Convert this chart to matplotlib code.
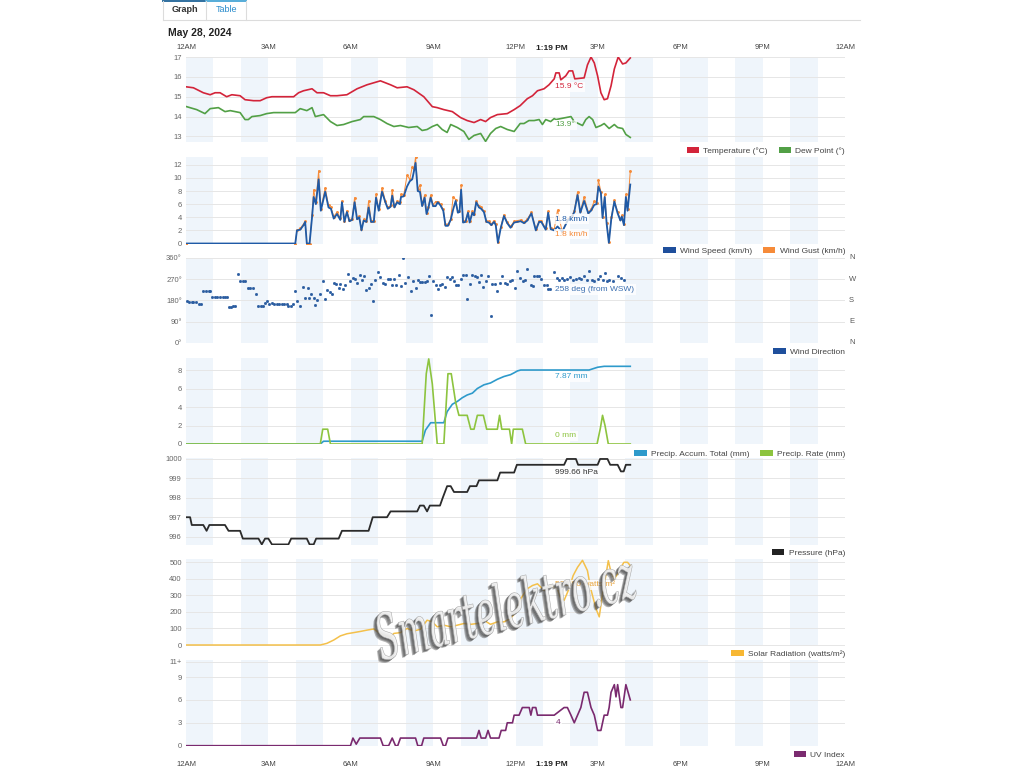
import matplotlib
matplotlib.use("Agg")
import matplotlib.pyplot as plt
from matplotlib.patches import Patch, PathPatch
from matplotlib.lines import Line2D
from matplotlib.textpath import TextPath
from matplotlib.font_manager import FontProperties
from matplotlib.transforms import Affine2D

plt.rcParams['font.family'] = ['Liberation Sans', 'DejaVu Sans']

# ---- data (hours since midnight) ----
now_hour = 13.32
hour_ticks = [0, 3, 6, 9, 12, 15, 18, 21, 24]
hour_labels = ['12AM', '3AM', '6AM', '9AM', '12PM', '3PM', '6PM', '9PM', '12AM']

temp_h = [0.0, 0.27, 0.63, 0.88, 1.06, 1.24, 1.48, 1.67, 1.97, 2.15, 2.46, 2.70, 2.94, 3.13, 3.92,
          4.10, 4.28, 4.59, 4.77, 5.01, 5.26, 5.50, 5.86, 6.23, 6.59, 7.08, 7.45, 7.69, 8.05, 8.30,
          8.66, 8.97, 9.15, 9.39, 9.70, 10.0, 10.24, 10.49, 10.73, 10.91, 11.09, 11.34, 11.70, 11.95,
          12.17, 12.43, 12.62, 12.80, 13.04, 13.22, 13.41, 13.47, 13.59, 13.65, 13.83, 13.95, 14.08,
          14.16, 14.50, 14.62, 14.75, 14.87, 14.99, 15.11, 15.23, 15.35, 15.48, 15.60, 15.74, 15.90,
          16.02, 16.18]
temp_v = [15.5, 15.45, 15.2, 15.1, 15.2, 15.2, 15.0, 15.1, 15.05, 14.85, 14.8, 14.8, 14.95, 15.0, 15.0,
          15.2, 15.3, 15.4, 15.2, 15.2, 15.05, 15.05, 15.1, 15.4, 15.6, 15.8, 15.6, 15.45, 15.5, 15.35,
          15.0, 14.5, 14.45, 14.35, 14.25, 13.95, 13.8, 13.7, 13.85, 13.75, 13.95, 14.1, 14.15, 14.35,
          14.55, 14.9, 15.05, 15.3, 15.4, 15.6, 15.9, 16.2, 16.2, 15.85, 16.05, 16.3, 16.3,
          15.9, 15.95, 16.6, 17.0, 16.7, 16.05, 15.2, 14.85, 14.9, 15.55, 16.4, 17.0, 16.65,
          16.7, 16.95]

dew_h = [0.02, 0.39, 0.69, 0.88, 1.18, 1.42, 1.61, 1.97, 2.15, 2.27, 2.40, 2.70, 2.94, 3.19, 3.98,
         4.16, 4.40, 4.59, 4.71, 5.01, 5.26, 5.50, 5.74, 6.05, 6.35, 6.47, 6.84, 7.08, 7.32, 7.57,
         7.81, 8.11, 8.42, 8.60, 8.78, 8.97, 9.15, 9.33, 9.51, 9.64, 9.88, 10.12, 10.30, 10.49, 10.73,
         10.91, 11.09, 11.28, 11.46, 11.70, 11.95, 12.17, 12.31, 12.49, 12.68, 12.86, 12.98, 13.10,
         13.28, 13.41, 13.47, 14.02, 14.14, 14.44, 14.56, 14.68, 14.81, 14.93, 15.11, 15.23, 15.41,
         15.60, 15.72, 15.90, 16.02, 16.18]
dew_v = [14.5, 14.35, 14.15, 14.4, 14.45, 14.25, 14.3, 14.2, 13.85, 13.85, 14.0, 14.05, 14.15, 14.2, 14.2,
         14.4, 14.3, 14.45, 14.0, 14.1, 13.75, 13.55, 13.6, 13.75, 13.85, 14.0, 14.0, 13.85, 13.65, 13.5,
         13.55, 13.45, 13.5, 13.3, 13.35, 13.5, 13.6, 13.35, 13.2, 13.6, 13.45, 13.25, 12.85, 13.05, 13.15,
         12.75, 13.15, 13.4, 13.5, 13.35, 13.25, 13.65, 13.65, 13.8, 13.8, 13.85, 13.6, 13.85,
         13.75, 13.9, 13.85, 14.0, 13.75, 13.55, 13.85, 14.0, 13.85, 13.45, 13.55, 13.65, 13.4,
         13.6, 13.45, 13.4, 13.1, 12.95]

wind_h = [0.0, 3.98, 4.04, 4.16, 4.28, 4.34, 4.40, 4.50, 4.59, 4.65,
          4.73, 4.83, 4.91, 5.07, 5.19, 5.28, 5.38, 5.50, 5.62, 5.68,
          5.77, 5.86, 5.95, 6.05, 6.14, 6.23, 6.31, 6.39, 6.47, 6.57,
          6.65, 6.74, 6.84, 6.92, 7.02, 7.14, 7.26, 7.35, 7.45, 7.51,
          7.59, 7.69, 7.79, 7.83, 7.93, 8.05, 8.15, 8.24, 8.30, 8.36,
          8.44, 8.52, 8.60, 8.69, 8.76, 8.82, 8.91, 9.00, 9.09, 9.17,
          9.27, 9.37, 9.45, 9.54, 9.64, 9.73, 9.82, 9.90, 9.96, 10.02,
          10.09, 10.18, 10.27, 10.33, 10.43, 10.49, 10.57, 10.67, 10.75, 10.85,
          10.94, 11.03, 11.12, 11.22, 11.28, 11.36, 11.46, 11.58, 11.70, 11.82,
          11.95, 12.07, 12.19, 12.31, 12.43, 12.58, 12.74, 12.86, 12.94, 13.10,
          13.19, 13.28, 13.41, 13.53, 13.70, 13.90, 14.05, 14.14, 14.26, 14.36,
          14.50, 14.65, 14.75, 14.87, 14.95, 15.02, 15.11, 15.17, 15.25, 15.32,
          15.40, 15.49, 15.60, 15.72, 15.82, 15.87, 15.95, 16.02, 16.08, 16.18]
wind_speed = [0, 0, 2.0, 2.1, 2.8, 3.3, 0, 0, 4.0, 7.1,
              6.0, 9.8, 5.0, 7.9, 5.5, 5.3, 3.8, 4.5, 3.6, 6.3,
              3.3, 4.8, 3.4, 3.6, 6.3, 3.7, 4.0, 2.0, 3.5, 3.3,
              5.5, 3.3, 3.3, 7.0, 5.0, 7.9, 6.3, 5.3, 5.6, 7.3,
              5.5, 6.3, 6.0, 7.1, 7.2, 8.7, 9.5, 9.8, 11.0, 12.3,
              8.0, 7.9, 5.7, 7.0, 4.5, 5.3, 7.0, 5.7, 5.7, 6.3,
              5.8, 5.0, 2.7, 2.7, 3.6, 5.2, 6.5, 4.7, 4.8, 8.2,
              3.2, 3.3, 4.7, 3.2, 4.7, 4.3, 6.3, 5.5, 5.3, 4.8,
              3.3, 3.2, 2.8, 3.3, 2.8, 0.1, 2.3, 4.2, 3.1, 2.4,
              3.2, 3.3, 3.4, 3.1, 3.5, 4.6, 2.0, 3.3, 3.3, 2.1,
              4.7, 2.2, 2.0, 2.6, 1.8, 3.5, 4.0, 4.8, 7.4, 4.7,
              6.5, 4.6, 5.0, 5.9, 6.0, 8.7, 7.7, 3.9, 7.1, 3.0,
              0.1, 3.8, 6.4, 4.6, 3.5, 4.1, 2.8, 7.1, 5.0, 9.0]
wind_gust = [0, 0, 2.0, 2.3, 3.0, 3.4, 0, 0, 4.3, 8.2,
             6.3, 11.1, 5.3, 8.5, 5.8, 5.5, 4.1, 4.8, 3.9, 6.5,
             3.5, 5.0, 3.6, 3.8, 7.0, 3.9, 4.2, 2.2, 3.7, 3.5,
             6.5, 3.5, 3.5, 7.5, 5.2, 8.5, 6.5, 5.5, 5.8, 8.2,
             5.7, 6.5, 6.3, 7.5, 7.4, 10.4, 9.8, 11.7, 11.3, 13.2,
             8.3, 8.9, 6.0, 7.4, 4.7, 5.5, 7.4, 5.9, 6.4, 6.4,
             6.0, 5.2, 2.9, 2.9, 3.8, 7.1, 6.7, 4.9, 5.0, 8.9,
             3.4, 3.5, 4.9, 3.4, 4.9, 4.5, 6.5, 5.7, 5.5, 5.0,
             3.5, 3.4, 3.0, 3.5, 3.0, 0.3, 2.5, 4.4, 3.3, 2.6,
             3.4, 3.5, 3.6, 3.3, 3.7, 4.8, 2.2, 3.5, 3.5, 2.3,
             4.9, 2.4, 2.2, 5.1, 1.8, 3.7, 4.2, 5.0, 7.9, 4.9,
             7.1, 4.8, 5.2, 6.5, 6.2, 9.7, 7.9, 4.1, 7.5, 3.2,
             0.3, 4.0, 6.6, 4.8, 3.7, 4.3, 3.0, 7.5, 5.2, 11.1]

dir_h = [0.02, 0.12, 0.21, 0.27, 0.36, 0.49, 0.55, 0.63, 0.73, 0.82, 0.88, 0.96, 1.06, 1.14, 1.24,
         1.33, 1.42, 1.48, 1.55, 1.63, 1.70, 1.80, 1.89, 1.97, 2.06, 2.15, 2.24, 2.34, 2.43, 2.55,
         2.64, 2.73, 2.82, 2.88, 2.94, 3.04, 3.13, 3.21, 3.31, 3.39, 3.49, 3.58, 3.67, 3.73, 3.82,
         3.89, 3.98, 4.06, 4.16, 4.26, 4.35, 4.44, 4.49, 4.56, 4.65, 4.71, 4.77, 4.87, 4.98, 5.07,
         5.13, 5.23, 5.32, 5.38, 5.47, 5.56, 5.62, 5.72, 5.80, 5.89, 5.99, 6.08, 6.14, 6.23, 6.33,
         6.41, 6.50, 6.57, 6.65, 6.74, 6.80, 6.90, 6.98, 7.08, 7.18, 7.26, 7.35, 7.42, 7.51, 7.57,
         7.66, 7.75, 7.83, 7.91, 7.99, 8.08, 8.18, 8.26, 8.36, 8.44, 8.52, 8.60, 8.69, 8.76, 8.84,
         8.91, 9.00, 9.09, 9.17, 9.25, 9.33, 9.42, 9.51, 9.60, 9.67, 9.76, 9.85, 9.91, 10.0, 10.09,
         10.18, 10.24, 10.34, 10.43, 10.51, 10.58, 10.67, 10.75, 10.83, 10.91, 11.01, 11.09, 11.16,
         11.25, 11.34, 11.44, 11.52, 11.61, 11.70, 11.80, 11.89, 11.97, 12.07, 12.17, 12.27, 12.34,
         12.43, 12.55, 12.62, 12.68, 12.77, 12.86, 12.94, 13.04, 13.13, 13.19, 13.26, 13.41, 13.51,
         13.59, 13.71, 13.77, 13.89, 13.99, 14.08, 14.20, 14.32, 14.40, 14.50, 14.60, 14.68, 14.77,
         14.87, 14.99, 15.09, 15.17, 15.26, 15.35, 15.41, 15.54, 15.74, 15.84, 15.94]
dir_deg = [176, 172, 172, 172, 172, 165, 165, 219, 219, 219, 219, 195, 195, 195, 195,
           195, 195, 195, 152, 152, 158, 158, 292, 261, 261, 261, 232, 232, 232, 208,
           158, 158, 158, 169, 176, 167, 169, 165, 165, 165, 165, 165, 165, 158, 158,
           165, 219, 176, 155, 237, 189, 234, 189, 208, 191, 162, 184, 209, 264, 186,
           226, 215, 209, 254, 251, 233, 248, 229, 244, 294, 264, 275, 271, 254, 289,
           268, 282, 223, 232, 250, 176, 268, 299, 280, 254, 250, 271, 271, 244, 271,
           247, 289, 243, 360, 254, 278, 219, 261, 233, 268, 258, 257, 257, 264, 285,
           117, 264, 244, 229, 247, 250, 236, 280, 271, 280, 264, 247, 247, 271, 289,
           289, 186, 250, 287, 285, 280, 258, 289, 236, 264, 285, 113, 251,
           250, 219, 254, 285, 254, 250, 261, 268, 233, 304, 275, 264, 268,
           313, 247, 240, 282, 282, 282, 272, 247, 247, 229, 229, 299, 275,
           268, 275, 268, 272, 278, 268, 271, 275, 272, 282, 268, 304, 265,
           261, 272, 285, 268, 296, 261, 268, 264, 285, 275, 265]

accum_h = [0, 4.89, 5.01, 8.60, 8.72, 8.91, 9.39, 9.51, 9.70, 9.88, 10.06, 10.24, 10.43, 10.61,
           10.85, 11.09, 11.34, 11.58, 11.82, 11.95, 12.07, 12.19, 14.68, 14.99, 15.23, 16.18]
accum_v = [0, 0, 0.3, 0.3, 1.5, 2.3, 2.3, 3.5, 4.3, 4.6, 5.0, 5.3, 5.5, 6.0,
           6.4, 6.6, 7.0, 7.3, 7.5, 7.7, 7.9, 8.0, 8.0, 8.3, 8.4, 8.4]

rate_h = [0, 4.89, 4.98, 5.16, 5.26, 8.60, 8.75, 8.84, 8.97, 9.15, 9.39, 9.54, 9.66, 9.82, 9.94,
          10.24, 10.37, 10.49, 10.61, 10.83, 10.95, 11.34, 11.42, 11.50, 11.78, 11.86, 11.92, 12.25,
          12.37, 14.97, 15.09, 15.17, 15.26, 15.38, 16.18]
rate_v = [0, 0, 1.6, 1.6, 0, 0, 7.6, 9.2, 6.5, 0, 0, 7.6, 7.6, 4.5, 3.1,
          3.1, 1.6, 1.6, 3.1, 3.1, 1.6, 1.6, 3.1, 1.6, 1.6, 0, 1.6, 1.6,
          0, 0, 1.7, 3.1, 2.0, 0, 0]

press_h = [0.0, 0.15, 0.21, 0.63, 0.75, 0.85, 1.42, 1.55, 1.97, 2.07, 2.64, 2.76, 2.88, 3.0, 3.13,
           3.73, 3.83, 4.40, 4.50, 4.65, 4.74, 5.56, 5.68, 6.65, 6.80, 7.32, 7.45, 8.42, 8.52, 8.66,
           8.78, 8.88, 9.25, 9.35, 9.51, 9.64, 9.76, 10.24, 10.34, 10.58, 10.67, 11.34, 11.44, 11.95,
           12.05, 13.77, 13.87, 14.20, 14.28, 14.99, 15.08, 15.35, 15.45, 15.72, 15.84, 15.94, 16.02,
           16.18]
press_v = [997.0, 997.0, 996.6, 996.6, 996.3, 996.6, 996.6, 996.3, 996.3, 995.9, 995.9, 995.6, 995.9,
           995.9, 995.6, 995.6, 995.9, 995.9, 995.6, 995.6, 995.9, 995.9, 996.3, 996.3, 997.0, 997.0,
           997.3, 997.3, 997.6, 997.6, 997.3, 997.6, 997.6, 998.0, 998.6, 998.6, 998.3, 998.3, 998.6,
           998.6, 998.9, 998.9, 999.3, 999.3, 999.7, 999.7, 1000.0, 1000.0, 999.7, 999.7, 1000.0,
           1000.0, 999.7, 999.7, 999.36, 999.36, 999.7, 999.7]

solar_h = [0, 4.89, 5.13, 5.38, 5.62, 5.86, 6.11, 6.35, 6.59, 6.84, 7.02, 7.20, 7.45, 7.57, 7.81,
           8.05, 8.30, 8.54, 8.78, 8.97, 9.15, 9.39, 9.64, 9.88, 10.12, 10.37, 10.61, 10.85, 11.09,
           11.34, 11.58, 11.82, 12.01, 12.19, 12.43, 12.62, 12.80, 13.04, 13.28, 13.53, 13.65, 13.77,
           13.95, 14.10, 14.26, 14.44, 14.62, 14.74, 14.93, 15.05, 15.17, 15.29, 15.38, 15.48, 15.60,
           15.72, 15.84, 15.95, 16.08, 16.18]
solar_v = [0, 0, 10, 30, 55, 68, 75, 82, 90, 97, 75, 60, 50, 70, 75,
           100, 85, 95, 150, 140, 110, 120, 110, 120, 130, 125, 130, 150, 125,
           140, 140, 160, 200, 280, 340, 360, 370, 330, 360, 340, 280, 270,
           340, 420, 470, 512, 450, 340, 220, 170, 310, 420, 510, 440, 400,
           430, 470, 500, 500, 480]

uv_h = [0, 5.99, 6.08, 6.20, 6.33, 7.08, 7.18, 7.38, 7.51, 7.63, 7.71, 7.81, 8.36, 8.44, 8.58,
        8.66, 9.27, 9.37, 9.45, 9.54, 10.58, 10.67, 10.75, 10.91, 11.0, 11.09, 11.40, 11.48, 11.64,
        11.70, 11.89, 11.95, 12.13, 12.25, 12.50, 12.56, 12.62, 12.74, 12.80, 13.41, 13.77, 13.89,
        14.02, 14.14, 14.26, 14.38, 14.50, 14.62, 14.75, 14.87, 14.99, 15.11, 15.23, 15.35, 15.41,
        15.48, 15.60, 15.66, 15.72, 15.84, 15.90, 16.02, 16.18]
uv_v = [0, 0, 1, 0.2, 1, 1, 0, 0, 1, 0, 0, 1, 1, 0, 0,
        1, 1, 0, 0, 1, 1, 2, 1, 1, 2, 1, 1, 2, 2,
        3, 3, 4, 4, 5, 5, 4, 5, 5, 4, 4, 5, 5,
        4, 3, 4, 5, 7, 7, 5, 4, 2, 2, 4, 4, 5,
        7, 8, 6.4, 8, 5, 5, 8, 6]

# ---- styling ----
BAND = '#eff5fb'
GRID = '#e6e6e6'
W, H = 1024, 768
LEFT, RIGHT = 186, 845

fig = plt.figure(figsize=(W / 100, H / 100), dpi=100)
fig.patch.set_facecolor('white')


def panel(top, bottom, ylim, yticks, ylabels=None):
    ax = fig.add_axes([LEFT / W, 1 - bottom / H, (RIGHT - LEFT) / W, (bottom - top) / H])
    ax.set_xlim(0, 24)
    ax.set_ylim(*ylim)
    for h in range(0, 24, 2):
        ax.axvspan(h, h + 1, color=BAND, lw=0, zorder=0)
    for t in yticks:
        ax.axhline(t, color=GRID, lw=0.7, zorder=0.5)
    ax.set_yticks(yticks)
    ax.set_yticklabels(ylabels if ylabels else [str(t) for t in yticks], fontsize=5.5, color='#666')
    ax.tick_params(axis='y', length=0, pad=3)
    ax.set_xticks([])
    for s in ax.spines.values():
        s.set_visible(False)
    return ax


def legend(ax, items, dy_px=9):
    handles = [Patch(facecolor=c, edgecolor='none', label=l) for l, c in items]
    h_px = ax.get_position().height * H
    ax.legend(handles=handles, loc='center right', bbox_to_anchor=(1.0, -dy_px / h_px),
              ncol=len(items), frameon=False, fontsize=6, handlelength=1.5, handleheight=0.75,
              handletextpad=0.5, columnspacing=1.3, borderaxespad=0, borderpad=0, labelcolor='#444')


def value_label(ax, y, text, color):
    ax.text(now_hour + 0.13, y, text, color=color, fontsize=6, ha='left', va='center', zorder=5,
            bbox=dict(boxstyle='square,pad=0.2', fc='white', ec='none', alpha=0.8))


# 1. temperature / dew point
ax1 = panel(57, 142, (12.72, 17.0), [13, 14, 15, 16, 17])
ax1.plot(temp_h, temp_v, color='#d3243a', lw=1.2, zorder=3)
ax1.plot(dew_h, dew_v, color='#52a046', lw=1.2, zorder=3)
value_label(ax1, 15.5, '15.9 °C', '#d3243a')
value_label(ax1, 13.58, '13.9°', '#52a046')
legend(ax1, [('Temperature (°C)', '#d3243a'), ('Dew Point (°)', '#52a046')])
ax1.xaxis.tick_top()
ax1.set_xticks(hour_ticks)
ax1.set_xticklabels(hour_labels, fontsize=5.5, color='#444')
ax1.tick_params(axis='x', length=0, pad=4)
ax1.text(now_hour, 1 + 9 / 85, '1:19 PM', transform=ax1.get_xaxis_transform(), ha='center',
         va='center', fontsize=6, fontweight='bold', color='#222')

# 2. wind speed / gust
ax2 = panel(157, 243.5, (0, 13.2), [0, 2, 4, 6, 8, 10, 12])
ax2.plot(wind_h, wind_gust, color='#f68b39', lw=0.7, marker='o', markersize=1.1, zorder=3)
ax2.plot(wind_h, wind_speed, color='#1f5aa6', lw=1.3, zorder=4)
value_label(ax2, 3.7, '1.8 km/h', '#1f5aa6')
value_label(ax2, 1.4, '1.8 km/h', '#f68b39')
legend(ax2, [('Wind Speed (km/h)', '#1f4f9c'), ('Wind Gust (km/h)', '#f68b39')], dy_px=7.5)

# 3. wind direction
ax3 = panel(258, 343, (0, 360), [0, 90, 180, 270, 360], ['0°', '90°', '180°', '270°', '360°'])
ax3.plot(dir_h, dir_deg, ls='none', marker='s', markersize=1.0, color='#2a5ca0', zorder=3)
value_label(ax3, 226, '258 deg (from WSW)', '#3b6fb0')
for d, lab in zip([360, 270, 180, 90, 0], ['N', 'W', 'S', 'E', 'N']):
    ax3.text(1.006, d, lab, transform=ax3.get_yaxis_transform(), fontsize=5.5, color='#555',
             ha='left', va='center')
legend(ax3, [('Wind Direction', '#1f4f9c')])

# 4. precipitation
ax4 = panel(358, 444, (0, 9.3), [0, 2, 4, 6, 8])
ax4.plot(accum_h, accum_v, color='#2e9acb', lw=1.2, zorder=3)
ax4.plot(rate_h, rate_v, color='#8dc43f', lw=1.2, zorder=3)
value_label(ax4, 7.27, '7.87 mm', '#2e9acb')
value_label(ax4, 0.87, '0 mm', '#8dc43f')
legend(ax4, [('Precip. Accum. Total (mm)', '#2e9acb'), ('Precip. Rate (mm)', '#8dc43f')], dy_px=10)

# 5. pressure
ax5 = panel(458, 545, (995.57, 1000.05), [996, 997, 998, 999, 1000])
ax5.plot(press_h, press_v, color='#2b2b2b', lw=1.3, zorder=3)
value_label(ax5, 999.29, '999.66 hPa', '#333')
legend(ax5, [('Pressure (hPa)', '#222222')], dy_px=8)

# 6. solar radiation
ax6 = panel(559, 646, (-6, 520), [0, 100, 200, 300, 400, 500])
ax6.plot(solar_h, solar_v, color='#f4c04a', lw=1.1, zorder=3)
value_label(ax6, 363, '500.90 watts/m²', '#e8a33a')
legend(ax6, [('Solar Radiation (watts/m²)', '#f7b733')], dy_px=8)

# 7. UV index
ax7 = panel(660, 746, (-0.04, 11.23), [0, 3, 6, 9, 11], ['0', '3', '6', '9', '11+'])
ax7.plot(uv_h, uv_v, color='#7a2a6f', lw=1.2, zorder=3)
value_label(ax7, 3.1, '4', '#7a2a6f')
legend(ax7, [('UV Index', '#7a2a6f')])
ax7.set_xticks(hour_ticks)
ax7.set_xticklabels(hour_labels, fontsize=5.5, color='#444')
ax7.tick_params(axis='x', length=0, pad=11)
ax7.text(now_hour, -19 / 86, '1:19 PM', transform=ax7.get_xaxis_transform(), ha='center',
         va='center', fontsize=6, fontweight='bold', color='#222')

# ---- page header ----
def fx(px):
    return px / W


def fy(py):
    return 1 - py / H


fig.add_artist(Line2D([fx(163), fx(860)], [fy(19.5), fy(19.5)], color='#dcdcdc', lw=0.8))
fig.add_artist(Line2D([fx(163), fx(206)], [fy(0.6), fy(0.6)], color='#2f6f9f', lw=1.4))
fig.add_artist(Line2D([fx(206), fx(246)], [fy(0.6), fy(0.6)], color='#55acd8', lw=1.4))
for xv in (163, 206, 246):
    fig.add_artist(Line2D([fx(xv), fx(xv)], [fy(0.5), fy(19.5)], color='#dcdcdc', lw=0.8))
fig.text(fx(184.5), fy(9.5), 'Graph', fontsize=6.5, fontweight='bold', color='#333',
         ha='center', va='center')
fig.text(fx(226), fy(9.5), 'Table', fontsize=6.5, color='#2a8ccc', ha='center', va='center')
fig.text(fx(168), fy(33), 'May 28, 2024', fontsize=7.5, fontweight='bold', color='#222',
         ha='left', va='center')

# ---- watermark ----
fp = FontProperties(family='DejaVu Serif', style='italic')
tp = TextPath((0, 0), 'Smartelektro.cz', size=100, prop=fp)
bb = tp.get_extents()
base = (Affine2D().translate(-bb.x0, -bb.y0).scale(265 / bb.width, 50 / bb.height)
        .rotate_deg(14).translate(383, H - 662))
to_fig = Affine2D().scale(1 / W, 1 / H) + fig.transFigure
for k in range(4, 0, -1):
    fig.add_artist(PathPatch(tp, transform=base + Affine2D().translate(-k * 0.9, -k * 0.8) + to_fig,
                             facecolor='#4a4a4a', edgecolor='none', alpha=0.4, zorder=20))
fig.add_artist(PathPatch(tp, transform=base + to_fig, facecolor='#f6f6f6', edgecolor='#a0a0a0',
                         lw=0.4, alpha=0.9, zorder=21))

fig.savefig('out.png', dpi=100)
